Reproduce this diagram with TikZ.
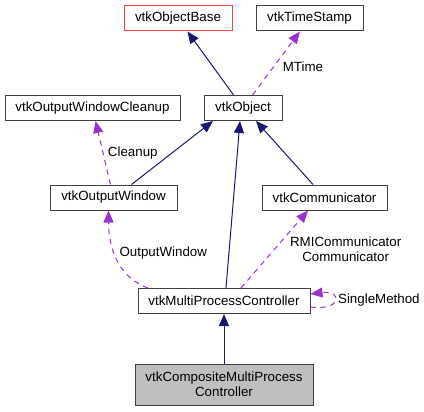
\documentclass[tikz,border=0pt]{standalone}
\usepackage{fontspec}
\setmainfont{Liberation Sans}
\usetikzlibrary{arrows.meta,positioning,calc}
\definecolor{inhColor}{HTML}{191970}
\definecolor{useColor}{HTML}{9A32CD}
\definecolor{boxColor}{HTML}{404040}
\definecolor{baseColor}{HTML}{FF4040}
\tikzset{class box/.style={draw=boxColor, line width=0.75pt, fill=white, minimum height=18.75pt,
		inner sep=0pt, align=center, font=\fontsize{10}{11.5}\selectfont}}
\tikzset{
	inherit/.style={draw=inhColor, line width=0.75pt, -{Triangle[length=9pt,width=7.5pt]}},
	uses/.style={draw=useColor, line width=0.75pt, dash pattern=on 4pt off 3.5pt,
		-{Triangle[length=9pt,width=7.5pt,fill=useColor]}},
	edge text/.style={font=\fontsize{10}{11.5}\selectfont, align=center, text=black}
}

\begin{document}
\begin{tikzpicture}[x=0.75pt, y=0.75pt]
	\useasboundingbox (0,0) rectangle (424,411);
	\node[class box, draw=baseColor, minimum width=81pt] at (178,392.5) (objbase) {vtkObjectBase};
	\node[class box, minimum width=80.25pt] at (309.5,392.5) (tstamp) {vtkTimeStamp};
	\node[class box, minimum width=131.25pt] at (92.5,303) (cleanup) {vtkOutputWindowCleanup};
	\node[class box, minimum width=58.5pt] at (243,303) (obj) {vtkObject};
	\node[class box, minimum width=95.25pt] at (113.5,213.5) (outwin) {vtkOutputWindow};
	\node[class box, minimum width=93.75pt] at (324.5,213.5) (comm) {vtkCommunicator};
	\node[class box, minimum width=129pt] at (224,110) (mpc) {vtkMultiProcessController};
	\node[class box, fill=black!25, minimum width=133.5pt, minimum height=30.75pt] at (224,26.5) (cmpc)
		{vtkCompositeMultiProcess\\Controller};

	\path (obj) edge[inherit] (objbase);
	\path (obj) edge[uses] node[edge text, right, pos=0.45, xshift=3pt] {MTime} (tstamp);
	\path (outwin) edge[uses] node[edge text, right] {Cleanup} (cleanup);
	\path ($(outwin.north)+(18,0)$) edge[inherit] ($(obj.south)+(-30,0)$);
	\path ($(mpc.north)+(2,0)$) edge[inherit] ($(obj.south)+(-3,0)$);
	\path ($(comm.north)+(-11.5,0)$) edge[inherit] ($(obj.south)+(13,0)$);
	\path ($(mpc.north)+(-76,0)$) edge[uses, out=160, in=-90]
		node[edge text, right, pos=0.55] {OutputWindow} ($(outwin.south)+(-5,0)$);
	\path ($(mpc.north)+(17,0)$) edge[uses]
		node[edge text, right, pos=0.5, xshift=8pt] {RMICommunicator\\Communicator} ($(comm.south)+(-16.5,0)$);
	\draw[uses] ($(mpc.east)+(0,-6)$) .. controls +(32,-4) and +(32,4) .. ($(mpc.east)+(0,7)$)
		node[edge text, right, pos=0.5, xshift=-1pt] {SingleMethod};
	\path (cmpc) edge[inherit] (mpc);
\end{tikzpicture}
\end{document}
